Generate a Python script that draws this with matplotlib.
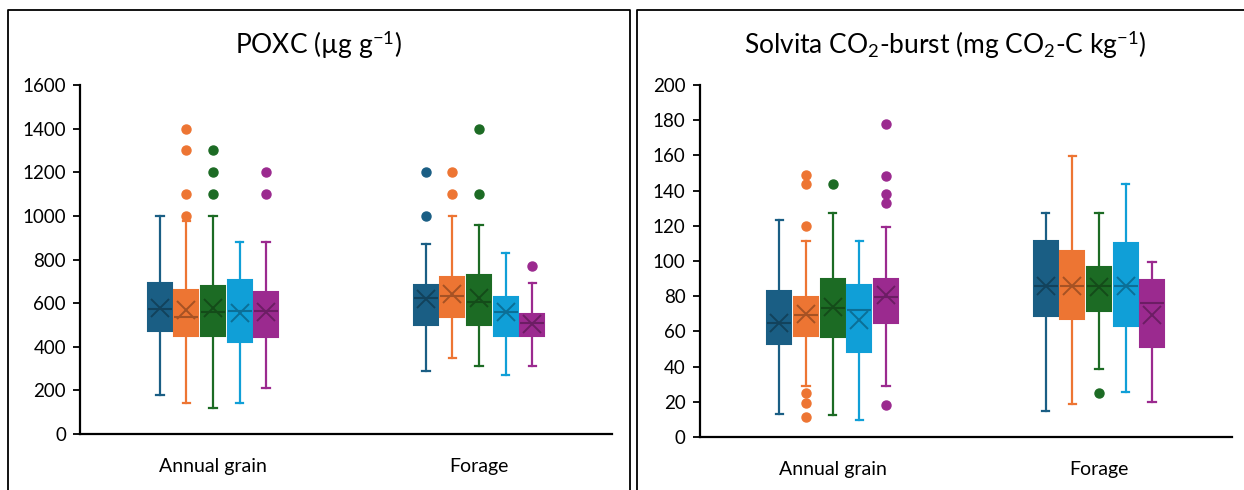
import matplotlib
matplotlib.use('Agg')
import matplotlib.pyplot as plt
import matplotlib.colors as mcolors
from matplotlib.lines import Line2D

plt.rcParams['font.family'] = ['Lato', 'DejaVu Sans']
plt.rcParams['mathtext.fontset'] = 'custom'
plt.rcParams['mathtext.rm'] = 'Lato'
plt.rcParams['mathtext.it'] = 'Lato:italic'

# categories and series colours (one box per series in each category)
categories = ['Annual grain', 'Forage']
series_colors = ['#1a5e84', '#ed7533', '#1c6b24', '#109fd7', '#9b2a8f']

# ---- POXC (ug g-1): [annual grain series..., forage series...]
poxc_q1 = [[470, 450, 450, 420, 445], [500, 535, 500, 450, 450]]
poxc_med = [[575, 535, 558, 565, 565], [625, 634, 607, 558, 510]]
poxc_q3 = [[690, 660, 680, 705, 650], [685, 720, 730, 630, 550]]
poxc_lo = [[180, 140, 120, 140, 210], [290, 350, 310, 270, 310]]
poxc_hi = [[1000, 975, 1000, 880, 880], [870, 1000, 960, 830, 690]]
poxc_mean = [[576, 569, 576, 553, 560], [620, 640, 625, 560, 505]]
poxc_fliers = [[[], [1400, 1300, 1100, 1000], [1300, 1200, 1100], [], [1200, 1100]],
               [[1200, 1000], [1200, 1100], [1400, 1100], [], [770]]]

# ---- Solvita CO2-burst (mg CO2-C kg-1)
co2_q1 = [[53, 57.5, 57, 48.5, 65], [69, 67, 71.5, 63, 51]]
co2_med = [[64.5, 69.5, 73, 72, 79.5], [86, 86, 86, 85.5, 76]]
co2_q3 = [[83, 79.5, 90, 86.5, 90], [111.5, 105.5, 96.5, 110, 89]]
co2_lo = [[13, 29, 12.5, 9.7, 29], [15, 19, 38.5, 25.5, 20]]
co2_hi = [[123.5, 111.5, 127.5, 111.5, 119.5], [127.5, 159.5, 127.5, 143.5, 99.5]]
co2_mean = [[64.5, 70, 74, 66.5, 80.5], [85.5, 85.5, 85, 86, 69.5]]
co2_fliers = [[[], [149, 143.5, 120, 25, 19.5, 11.5], [143.5], [], [178, 148.5, 138, 133, 18]],
              [[], [], [25], [], []]]

offsets = [-0.2, -0.1, 0.0, 0.1, 0.2]


def darker(c, f=0.7):
    r, g, b = mcolors.to_rgb(c)
    return (r * f, g * f, b * f)


def draw_panel(ax, q1, med, q3, lo, hi, mean, fliers):
    for ci in range(len(categories)):
        for si, col in enumerate(series_colors):
            stats = [dict(q1=q1[ci][si], med=med[ci][si], q3=q3[ci][si],
                          whislo=lo[ci][si], whishi=hi[ci][si],
                          mean=mean[ci][si], fliers=fliers[ci][si])]
            dc = darker(col)
            ax.bxp(stats, positions=[ci + offsets[si]], widths=0.09,
                   capwidths=0.028, patch_artist=True, showmeans=True,
                   boxprops=dict(facecolor=col, edgecolor=col, linewidth=1.5),
                   whiskerprops=dict(color=col, linewidth=1.6),
                   capprops=dict(color=col, linewidth=1.6),
                   medianprops=dict(color=dc, linewidth=1.5),
                   meanprops=dict(marker='x', markeredgecolor=dc, markersize=13,
                                  markeredgewidth=1.4),
                   flierprops=dict(marker='o', markerfacecolor=col,
                                   markeredgecolor=col, markersize=6.5))
    ax.set_xlim(-0.5, 1.5)
    ax.set_xticks([0, 1])
    ax.set_xticklabels(categories)
    ax.spines['top'].set_visible(False)
    ax.spines['right'].set_visible(False)
    ax.spines['left'].set_linewidth(1.6)
    ax.spines['bottom'].set_linewidth(1.6)
    ax.tick_params(axis='x', length=0, pad=17, labelsize=14)
    ax.tick_params(axis='y', length=5, width=1.3, direction='out', pad=5, labelsize=13.5)


fig = plt.figure(figsize=(12.44, 4.90), dpi=100)

ax1 = fig.add_axes([0.0643, 0.1143, 0.4277, 0.7122])
draw_panel(ax1, poxc_q1, poxc_med, poxc_q3, poxc_lo, poxc_hi, poxc_mean, poxc_fliers)
ax1.set_ylim(0, 1600)
ax1.set_yticks(range(0, 1601, 200))

ax2 = fig.add_axes([0.5623, 0.1082, 0.4281, 0.7184])
draw_panel(ax2, co2_q1, co2_med, co2_q3, co2_lo, co2_hi, co2_mean, co2_fliers)
ax2.set_ylim(0, 200)
ax2.set_yticks(range(0, 201, 20))

fig.text(318 / 1244, 1 - 45 / 490, r'POXC (µg g$^{\mathregular{-1}}$)',
         ha='center', va='center', fontsize=19)
fig.text(945 / 1244, 1 - 45 / 490,
         r'Solvita CO$_{\mathregular{2}}$-burst (mg CO$_{\mathregular{2}}$-C kg$^{\mathregular{-1}}$)',
         ha='center', va='center', fontsize=19)

# panel frames
W, H = 1244, 490
for xs, ys in [([8, 8, 630, 630], [490, 10, 10, 490]),
               ([637, 637, 1244], [490, 10, 10])]:
    fig.add_artist(Line2D([x / W for x in xs], [1 - y / H for y in ys],
                          color='black', linewidth=1.3, transform=fig.transFigure))

fig.savefig('out.png', dpi=100)
